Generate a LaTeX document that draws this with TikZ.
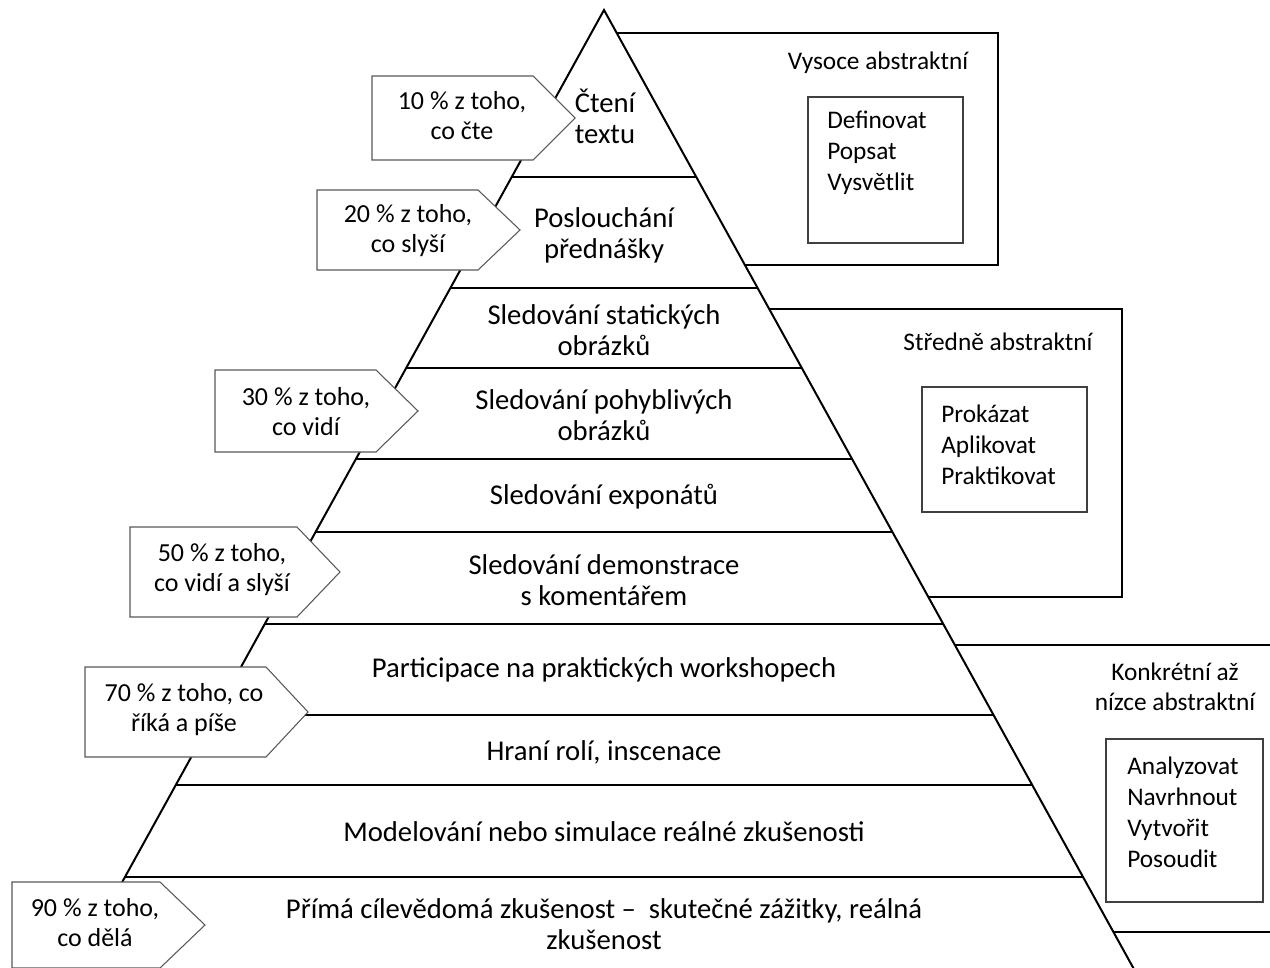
\documentclass[tikz,border=0pt]{standalone}
\usepackage{fontspec}
\setmainfont{Carlito}
\begin{document}
\begin{tikzpicture}[x=0.75pt,y=-0.75pt,
  pyr/.style={line width=1.5pt,black},
  brk/.style={line width=2.1pt,black},
  callout/.style={draw=black!65,line width=0.8pt,fill=white},
  ptext/.style={font=\fontsize{21.5}{23.25}\selectfont,align=center,inner sep=0pt},
  ctext/.style={font=\fontsize{19.5}{22.5}\selectfont,align=center,inner sep=0pt},
  stext/.style={font=\fontsize{19}{22.5}\selectfont,align=center,inner sep=0pt},
  ltext/.style={font=\fontsize{19}{23.25}\selectfont,align=left,inner sep=0pt,anchor=west},
  ibox/.style={draw=black!75,line width=0.9pt}]
\useasboundingbox (0,0) rectangle (1270,967);
\clip (0,0) rectangle (1270,967);
% pyramid
\coordinate (apex) at (604,10);
\coordinate (bl) at (57,1000);
\coordinate (br) at (1151,1000);
\draw[pyr] (bl) -- (apex) -- (br);
\foreach \yy/\l/\r in {177/511.7/696.3, 288/450.4/757.6, 368/406.2/801.8, 459/355.9/852.1,
  532/315.6/892.4, 624/264.8/943.2, 715/214.5/993.5, 785/175.8/1032.2, 877/125/1083}
  \draw[pyr] (\l,\yy) -- (\r,\yy);
% pyramid texts
\node[ptext] (t1) at (605,116) {Čtení\\textu};
\node[ptext] (t2) at (604,235) {Poslouchání\\přednášky};
\node[ptext] (t3) at (604,330) {Sledování statických\\obrázků};
\node[ptext] (t4) at (604,415) {Sledování pohyblivých\\obrázků};
\node[ptext] (t5) at (604,497) {Sledování exponátů};
\node[ptext] (t6) at (604,580) {Sledování demonstrace\\s komentářem};
\node[ptext] (t7) at (604,670) {Participace na praktických workshopech};
\node[ptext] (t8) at (604,752) {Hraní rolí, inscenace};
\node[ptext] (t9) at (604,832) {Modelování nebo simulace reálné zkušenosti};
\node[ptext] (t10) at (604,924) {Přímá cílevědomá zkušenost –\ \ skutečné zážitky, reálná\\zkušenost};
% brackets
\draw[brk] (616.7,33) -- (998,33) -- (998,265) -- (744.9,265);
\draw[brk] (769.2,309) -- (1122,309) -- (1122,597) -- (928.3,597);
\draw[brk] (954.8,645) -- (1275,645);
\draw[brk] (1113.4,932) -- (1275,932);
% side labels
\node[stext] (s1) at (878,63) {Vysoce abstraktní};
\node[stext] (s2) at (998,342) {Středně abstraktní};
\node[stext] (s3) at (1175,687) {Konkrétní až\\nízce abstraktní};
% inner boxes
\draw[ibox] (808,97) rectangle (963,243);
\node[ltext] (l1) at (827,153) {Definovat\\Popsat\\Vysvětlit};
\draw[ibox] (922,387) rectangle (1087,512);
\node[ltext] (l2) at (941,445) {Prokázat\\Aplikovat\\Praktikovat};
\draw[ibox] (1106,739) rectangle (1263,902);
\node[ltext] (l3) at (1127,812.5) {Analyzovat\\Navrhnout\\Vytvořit\\Posoudit};
% callouts
\draw[callout] (372,76) -- (533,76) -- (575,118) -- (533,160) -- (372,160) -- cycle;
\node[ctext] (c1) at (462,116) {10 \% z toho,\\co čte};
\draw[callout] (317,190) -- (478,190) -- (520,230) -- (478,270) -- (317,270) -- cycle;
\node[ctext] (c2) at (408,231) {20 \% z toho,\\co slyší};
\draw[callout] (215,370) -- (376,370) -- (418,411) -- (376,452) -- (215,452) -- cycle;
\node[ctext] (c3) at (306,412) {30 \% z toho,\\co vidí};
\draw[callout] (130,527) -- (297,527) -- (340,572) -- (297,617) -- (130,617) -- cycle;
\node[ctext] (c4) at (222,570) {50 \% z toho,\\co vidí a slyší};
\draw[callout] (85,667) -- (266,667) -- (308,712) -- (266,757) -- (85,757) -- cycle;
\node[ctext] (c5) at (184,710) {70 \% z toho, co\\říká a píše};
\draw[callout] (12,882) -- (160,882) -- (205,925) -- (160,968) -- (12,968) -- cycle;
\node[ctext] (c6) at (95,923) {90 \% z toho,\\co dělá};
\end{tikzpicture}
\end{document}
